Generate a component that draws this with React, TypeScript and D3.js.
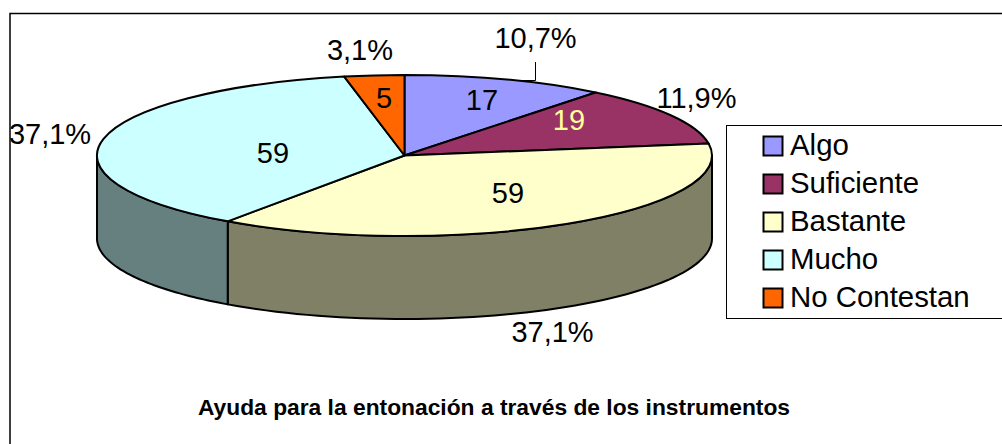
import React from "react";
import * as d3 from "d3";

const categories = ["Algo", "Suficiente", "Bastante", "Mucho", "No Contestan"];
const values = [17, 19, 59, 59, 5];
const colors = ["#9999FF", "#993366", "#FFFFCC", "#CCFFFF", "#FF6600"];
const sideColors = ["#4d4d80", "#4d1a33", "#808066", "#668080", "#803300"];
const percentLabels = ["10,7%", "11,9%", "37,1%", "37,1%", "3,1%"];
const valueLabelColors = ["#000", "#FFFF99", "#000", "#000", "#000"];
const title = "Ayuda para la entonación a través de los instrumentos";

const cx = 404.5, cy = 155.5, rx = 307.5, ry = 80.5, depth = 83;
const FONT = "'Liberation Sans', Arial, sans-serif";

const valuePos = [[482, 110], [569, 130], [508, 203], [273, 163], [384, 108]];
const pctPos = [[535.5, 47.5], [696.5, 108], [552.5, 342], [50, 144], [360, 60]];

const pieGen = d3.pie<number>().sort(null).startAngle(0).endAngle(2 * Math.PI);
const arcs = pieGen(values);
const unitArc = d3.arc<any>().innerRadius(0).outerRadius(1);
const px = (a: number) => cx + rx * Math.sin(a);
const py = (a: number) => cy - ry * Math.cos(a);
const line = d3.line<[number, number]>();

function sidePath(a0: number, a1: number) {
  const s = Math.max(a0, Math.PI / 2), e = Math.min(a1, (3 * Math.PI) / 2);
  if (s >= e) return null;
  const t = d3.range(0, 61).map((i) => s + ((e - s) * i) / 60);
  const top = t.map((a) => [px(a), py(a)] as [number, number]);
  const bot = t.slice().reverse().map((a) => [px(a), py(a) + depth] as [number, number]);
  return line([...top, ...bot]) + "Z";
}

export default function App() {
  return (
    <svg width={1002} height={444} style={{ position: "absolute", left: 0, top: 0, background: "#fff" }} fontFamily={FONT}>
      <defs>
        <clipPath id="frameClip"><rect x={10} y={13} width={1100} height={500} /></clipPath>
      </defs>
      <rect x={10} y={13.5} width={1100} height={500} fill="#fff" stroke="#000" strokeWidth={1.5} />
      <path d="M498,80.5H535.5V62" fill="none" stroke="#000" strokeWidth={1} />
      {arcs.map((a, i) => {
        const d = sidePath(a.startAngle, a.endAngle);
        return d ? <path key={i} d={d} fill={sideColors[i]} stroke="#000" strokeWidth={2} strokeLinejoin="round" /> : null;
      })}
      <g transform={`translate(${cx},${cy}) scale(${rx},${ry})`}>
        {arcs.map((a, i) => (
          <path key={i} d={unitArc(a) as string} fill={colors[i]} stroke="#000" strokeWidth={2} strokeLinejoin="round" style={{ vectorEffect: "non-scaling-stroke" }} />
        ))}
      </g>
      {values.map((v, i) => (
        <text key={i} x={valuePos[i][0]} y={valuePos[i][1]} textAnchor="middle" fontSize={29} fill={valueLabelColors[i]}>{v}</text>
      ))}
      <g clipPath="url(#frameClip)">
        {percentLabels.map((p, i) => (
          <text key={i} x={pctPos[i][0]} y={pctPos[i][1]} textAnchor="middle" fontSize={29} fill="#000">{p}</text>
        ))}
      </g>
      <rect x={726.5} y={125.5} width={400} height={193} fill="#fff" stroke="#000" strokeWidth={1} />
      {categories.map((c, i) => (
        <g key={c}>
          <rect x={763.5} y={136.5 + i * 38} width={19} height={19} fill={colors[i]} stroke="#000" strokeWidth={2} />
          <text x={790} y={154.5 + i * 38.2} fontSize={29.4} fill="#000">{c}</text>
        </g>
      ))}
      <text x={494} y={414.5} textAnchor="middle" fontSize={22.8} fontWeight="bold" fill="#000">{title}</text>
    </svg>
  );
}
